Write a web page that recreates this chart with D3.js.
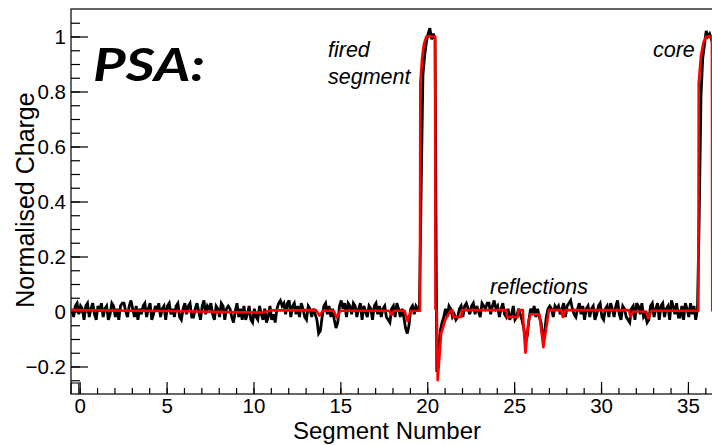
<!DOCTYPE html>
<html><head><meta charset="utf-8">
<script src="https://cdn.jsdelivr.net/npm/d3@7/dist/d3.min.js"></script>
<style>body{margin:0;background:#fff;overflow:hidden}</style>
</head><body>
<svg id="chart" width="712" height="445"></svg>
<script>
// ---------------- data ----------------
const segmentNumbers = d3.range(0, 37);   // 0..35 segments + 36 = core
const samplesPerSegment = 10;
// measured (black) trace, 10 samples per segment, segment 0 .. 36
const measuredCharge = [
  0.01,-0.02,0.02,0.03,-0.01,0.02,0.01,-0.03,0.02,0.03,
  -0.02,0.01,0.03,-0.01,-0.03,0.02,0.00,0.03,-0.02,0.01,
  0.02,-0.03,-0.01,0.03,0.02,-0.02,0.01,-0.03,0.02,0.03,
  0.03,0.00,-0.02,0.02,0.04,0.01,-0.02,0.02,-0.03,0.01,
  -0.01,0.02,0.03,-0.02,0.01,0.03,-0.03,-0.01,0.02,0.00,
  0.03,-0.02,0.01,0.02,-0.03,0.02,0.03,-0.01,0.01,-0.02,
  0.02,0.03,-0.02,-0.03,0.01,0.03,-0.01,0.02,0.03,-0.02,
  -0.02,0.01,0.03,0.00,-0.03,0.02,0.04,-0.01,0.02,0.01,
  0.03,-0.01,-0.03,0.02,0.01,-0.02,0.03,0.02,-0.03,0.01,
  0.02,0.01,-0.02,-0.04,0.00,0.03,-0.02,0.01,-0.03,0.02,
  -0.03,-0.01,0.02,-0.03,-0.04,0.01,-0.02,-0.03,0.02,-0.01,
  -0.03,0.01,-0.04,-0.02,0.02,-0.03,-0.01,-0.04,0.01,0.03,
  0.04,0.02,0.03,-0.01,0.03,0.04,-0.02,0.02,0.03,-0.01,
  0.02,-0.02,0.03,0.01,-0.02,-0.03,0.02,0.01,-0.02,0.01,
  -0.01,-0.03,-0.08,-0.07,-0.02,0.02,0.03,-0.01,0.02,-0.02,
  0.01,-0.03,-0.06,-0.04,0.02,0.04,0.01,0.03,-0.02,0.03,
  0.02,-0.01,0.03,0.02,-0.02,0.01,0.03,-0.03,0.02,0.00,
  -0.02,0.02,0.01,-0.03,0.02,0.03,-0.01,0.02,-0.02,0.01,
  0.02,-0.02,-0.03,-0.04,0.01,0.02,-0.02,0.03,0.01,-0.02,
  0.01,-0.02,-0.06,-0.08,-0.05,0.01,0.02,-0.01,0.02,0.01,
  0.01,0.45,0.86,0.93,0.98,1.01,1.03,0.99,1.01,0.99,
  -0.22,-0.14,-0.07,-0.04,-0.02,0.01,-0.02,0.02,0.01,-0.02,
  -0.01,-0.03,-0.02,0.01,0.02,-0.02,0.02,0.03,0.01,-0.01,
  0.02,0.03,-0.01,0.02,0.00,-0.02,0.03,0.02,0.01,0.03,
  0.03,-0.01,0.02,0.04,0.01,0.02,-0.02,0.01,0.03,-0.01,
  -0.02,0.01,-0.03,-0.01,0.02,-0.03,-0.02,0.01,-0.01,-0.03,
  -0.06,-0.10,-0.09,-0.03,0.01,-0.01,0.02,-0.02,0.01,-0.02,
  -0.04,-0.10,-0.08,-0.02,0.01,0.02,0.01,-0.02,0.02,0.01,
  0.02,-0.01,0.01,0.03,-0.02,0.02,0.03,0.04,0.01,-0.01,
  -0.02,0.01,0.03,-0.01,0.02,-0.03,0.01,0.02,-0.02,0.01,
  0.02,-0.03,-0.01,0.02,0.03,-0.02,-0.03,0.01,0.02,-0.02,
  0.03,0.01,-0.02,0.02,0.04,-0.01,-0.03,0.02,0.01,-0.02,
  -0.03,-0.04,0.01,0.02,-0.03,0.03,0.02,-0.01,0.03,-0.02,
  -0.01,-0.04,-0.03,0.02,0.03,-0.02,0.01,0.03,-0.03,0.02,
  0.03,-0.02,0.01,0.02,-0.03,0.04,0.02,-0.01,0.03,-0.02,
  -0.02,0.02,-0.03,0.03,0.01,-0.02,0.03,-0.01,0.02,-0.03,
  0.01,0.35,0.78,0.92,0.97,1.02,1.00,1.01,0.99,1.00
];
// PSA fit (red) breakpoints
const fitSegment = [-0.5, 5, 10.5, 11, 13.6, 13.8, 14.0, 14.6, 14.8, 15.0, 17.8, 17.95, 18.1, 18.7, 18.87, 19.05,
  19.58, 19.6, 19.7, 19.8, 19.95, 20.45, 20.47, 20.55, 20.6, 20.8, 21.04, 21.3, 21.45, 21.5, 21.95, 22.0,
  24.55, 24.6, 25.2, 25.25, 25.5, 25.53, 25.65, 25.82, 25.94, 26.45, 26.51, 26.68, 26.92, 27.0,
  27.7, 27.8, 27.95, 31.6, 31.7, 31.85, 32.6, 32.72, 32.9, 35.6, 35.62, 35.75, 35.9, 36.05, 36.38, 36.4];
const fitCharge = [0.005, 0.002, -0.004, 0.004, 0.005, -0.015, 0.003, 0.003, -0.022, 0.003, 0.003, -0.012, 0.003, 0.003, -0.035, 0.002,
  0.003, 0.83, 0.92, 0.97, 1.0, 1.0, 0.01, 0.0, -0.25, -0.08, -0.03, 0.0, 0.005, -0.02, -0.02, 0.005,
  0.005, -0.02, -0.02, 0.005, 0.005, -0.04, -0.15, -0.04, -0.01, -0.01, -0.04, -0.13, -0.03, 0.005,
  0.005, -0.02, 0.005, 0.005, -0.02, 0.0, 0.0, -0.025, 0.003, 0.003, 0.83, 0.93, 0.98, 1.0, 1.0, 0.0];
// small histogram-edge step at the lower left corner
const edgeSegment = [-0.5, -0.5, -0.05, -0.05];
const edgeCharge = [-0.3, -0.26, -0.26, -0.3];

const xMajorTicks = [0, 5, 10, 15, 20, 25, 30, 35];
const xMinorTicks = d3.range(0, 37);
const yMajorTicks = [-0.2, 0, 0.2, 0.4, 0.6, 0.8, 1];
const yMinorTicks = d3.range(-0.25, 1.1, 0.05);
const yTickLabels = ["\u22120.2", "0", "0.2", "0.4", "0.6", "0.8", "1"];

// ---------------- drawing ----------------
const svg = d3.select("#chart");
const L = 71, R = 714, T = 9, B = 394;
const x = d3.scaleLinear().domain([-0.5, 36.5]).range([L, R]);
const y = d3.scaleLinear().domain([-0.3, 1.1]).range([B, T]);
const tickFont = "Liberation Sans, Arial, sans-serif";

// frame
svg.append("rect").attr("x", L).attr("y", T).attr("width", R - L).attr("height", B - T)
  .attr("fill", "none").attr("stroke", "#000").attr("stroke-width", 1.2);

// axes
const gx = svg.append("g").attr("transform", `translate(0,${B})`);
gx.call(d3.axisBottom(x).tickValues(xMinorTicks).tickSize(-6).tickFormat(""));
gx.append("g").attr("class", "xmaj").call(d3.axisBottom(x).tickValues(xMajorTicks).tickSize(-12).tickPadding(4).tickFormat(d3.format("d")));
const gy = svg.append("g").attr("transform", `translate(${L},0)`);
gy.call(d3.axisLeft(y).tickValues(yMinorTicks).tickSize(-9).tickFormat(""));
gy.append("g").call(d3.axisLeft(y).tickValues(yMajorTicks).tickSize(-17).tickPadding(5)
  .tickFormat((d, i) => yTickLabels[i]));
svg.selectAll(".domain").remove();
svg.selectAll(".tick line").attr("stroke", "#000").attr("stroke-width", 1.2);
svg.selectAll(".tick text").attr("font-family", tickFont).attr("font-size", 20.5).attr("fill", "#000");

// histogram edge
svg.append("path")
  .attr("d", d3.line().x((d, i) => x(edgeSegment[i])).y((d, i) => y(edgeCharge[i]))(edgeSegment))
  .attr("fill", "none").attr("stroke", "#000").attr("stroke-width", 1.2);

// measured trace
const measured = measuredCharge.map((v, i) => ({
  s: Math.floor(i / samplesPerSegment) - 0.5 + ((i % samplesPerSegment) + 0.5) / samplesPerSegment,
  v
}));
svg.append("path")
  .attr("d", d3.line().x(d => x(d.s)).y(d => y(d.v)).curve(d3.curveLinear)(measured))
  .attr("fill", "none").attr("stroke", "#000").attr("stroke-width", 2.8).attr("stroke-linejoin", "miter")
  .attr("stroke-miterlimit", 3);

// fit
svg.append("path")
  .attr("d", d3.line().x((d, i) => x(fitSegment[i])).y((d, i) => y(fitCharge[i]))(fitSegment))
  .attr("fill", "none").attr("stroke", "#ff0000").attr("stroke-width", 2.6).attr("stroke-linejoin", "round");

// axis titles
svg.append("text").attr("x", 387).attr("y", 439).attr("text-anchor", "middle")
  .attr("font-family", tickFont).attr("font-size", 24).text("Segment Number");
svg.append("text").attr("transform", "translate(34,200) rotate(-90)").attr("text-anchor", "middle")
  .attr("font-family", tickFont).attr("font-size", 25).text("Normalised Charge");

// annotations
const ann = [
  {t: "fired", x: 328, y: 57},
  {t: "segment", x: 328, y: 84},
  {t: "core", x: 653, y: 57},
  {t: "reflections", x: 490, y: 294}
];
svg.selectAll("text.ann").data(ann).enter().append("text").attr("class", "ann")
  .attr("x", d => d.x).attr("y", d => d.y).attr("font-family", tickFont)
  .attr("font-style", "italic").attr("font-size", 21.5).attr("fill", "#000").text(d => d.t);

svg.append("text").attr("x", 93).attr("y", 81).attr("font-family", "Lato, 'Open Sans', sans-serif")
  .attr("font-weight", 700).attr("font-style", "italic").attr("font-size", 46)
  .attr("textLength", 112).attr("lengthAdjust", "spacingAndGlyphs").text("PSA:");
</script>
</body></html>
